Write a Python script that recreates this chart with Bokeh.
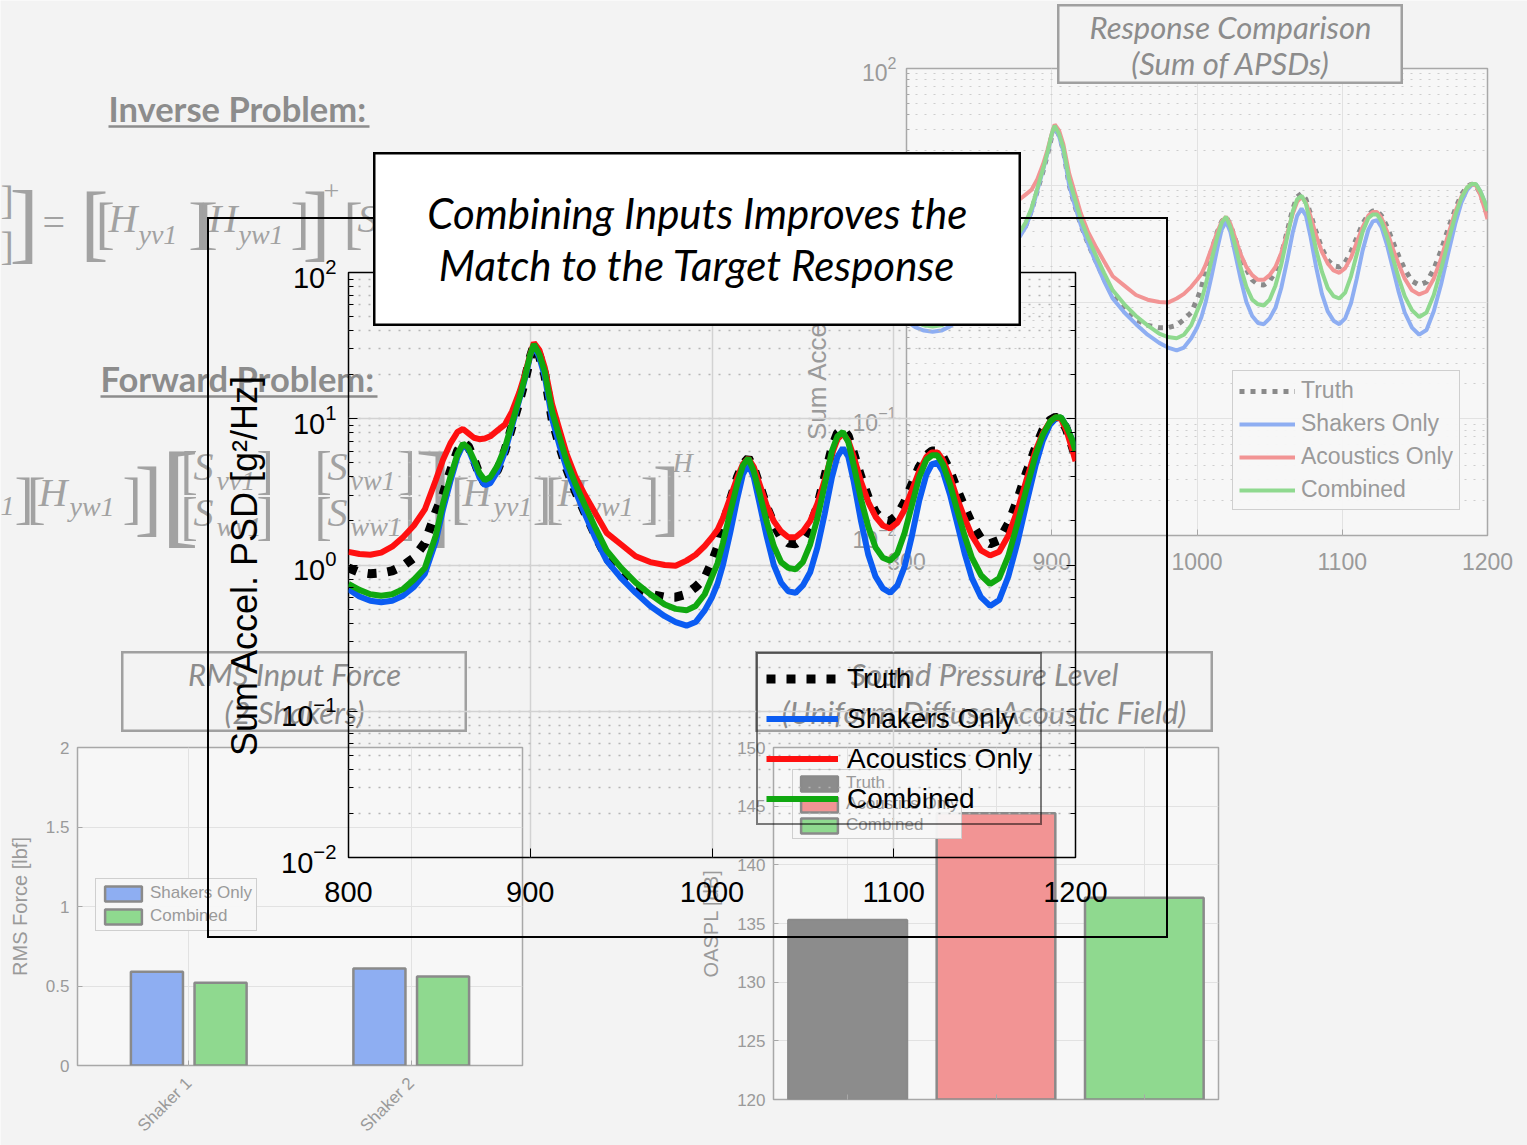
import math
from bokeh.plotting import figure
from bokeh.models import (ColumnDataSource, Range1d, FactorRange, FixedTicker, LogTicker,
                          LogAxis, LinearAxis, Legend, LegendItem, PrintfTickFormatter)
from bokeh.transform import dodge
from bokeh.core.properties import value
from bokeh.embed import file_html
from bokeh.resources import INLINE

# ---------------------------------------------------------------- data
# Frequency grid [Hz] and summed acceleration PSDs, stored as log10(g^2/Hz)
freq = [800, 806, 812, 818, 824, 830, 836, 842, 848,
        852, 856, 860, 863, 866, 869, 872, 875, 878, 882, 886, 890, 894, 897, 900, 902,
        905, 908, 912, 916, 920, 925, 930, 936, 942, 950, 958, 966, 974, 980, 986, 991, 996, 1000, 1003,
        1006, 1010, 1014, 1017, 1020, 1023, 1026, 1030, 1034, 1038, 1042, 1046, 1050,
        1054, 1058, 1062, 1066, 1069, 1072, 1075, 1078, 1082, 1086, 1090, 1094, 1098,
        1102, 1106, 1110, 1114, 1118, 1121, 1124, 1127, 1131, 1135, 1139, 1143, 1148, 1153,
        1158, 1163, 1168, 1173, 1178, 1182, 1186, 1189, 1192, 1195, 1198, 1200]

truth_log = [-0.02, -0.05, -0.06, -0.055, -0.04, -0.005, 0.05, 0.15, 0.36,
             0.48, 0.64, 0.78, 0.84, 0.81, 0.72, 0.62, 0.56, 0.58, 0.65, 0.78, 0.95, 1.12, 1.26, 1.42, 1.5,
             1.43, 1.3, 1.0, 0.82, 0.66, 0.5, 0.36, 0.2, 0.05, -0.07, -0.15, -0.2, -0.22, -0.22, -0.2, -0.15, -0.09, 0.02, 0.12,
             0.27, 0.44, 0.6, 0.69, 0.73, 0.66, 0.55, 0.4, 0.28, 0.19, 0.15, 0.145, 0.18,
             0.26, 0.4, 0.6, 0.8, 0.9, 0.93, 0.88, 0.76, 0.6, 0.46, 0.36, 0.31, 0.3,
             0.34, 0.43, 0.55, 0.67, 0.75, 0.78, 0.78, 0.74, 0.64, 0.51, 0.39, 0.28, 0.18, 0.145,
             0.17, 0.28, 0.44, 0.63, 0.8, 0.92, 0.99, 1.01, 1.0, 0.93, 0.82, 0.74]

shakers_log = [-0.165, -0.215, -0.245, -0.255, -0.245, -0.21, -0.15, -0.06, 0.16,
               0.38, 0.57, 0.74, 0.82, 0.79, 0.7, 0.6, 0.545, 0.56, 0.64, 0.77, 0.95, 1.13, 1.27, 1.43, 1.5,
               1.42, 1.29, 1.0, 0.82, 0.66, 0.5, 0.35, 0.18, 0.03, -0.09, -0.19, -0.28, -0.35, -0.39, -0.415, -0.39, -0.31, -0.22, -0.13,
               0.0, 0.22, 0.46, 0.62, 0.69, 0.6, 0.43, 0.2, 0.0, -0.12, -0.18, -0.19, -0.14,
               -0.05, 0.12, 0.35, 0.6, 0.74, 0.8, 0.74, 0.57, 0.3, 0.07, -0.08, -0.16, -0.19,
               -0.14, -0.01, 0.2, 0.44, 0.62, 0.69, 0.7, 0.64, 0.48, 0.28, 0.08, -0.09, -0.22, -0.28,
               -0.24, -0.08, 0.15, 0.42, 0.68, 0.85, 0.96, 1.0, 1.01, 0.95, 0.86, 0.78]

acoustics_log = [0.09, 0.075, 0.07, 0.085, 0.125, 0.19, 0.27, 0.38, 0.58,
                 0.72, 0.83, 0.91, 0.93, 0.9, 0.87, 0.86, 0.865, 0.88, 0.92, 0.96, 1.05, 1.18, 1.3, 1.44, 1.52,
                 1.47, 1.35, 1.1, 0.93, 0.76, 0.6, 0.48, 0.35, 0.22, 0.14, 0.06, 0.02, 0.0, -0.005, 0.03, 0.07, 0.13, 0.19, 0.24,
                 0.32, 0.46, 0.6, 0.69, 0.73, 0.67, 0.56, 0.41, 0.3, 0.23, 0.19, 0.19, 0.23,
                 0.3, 0.42, 0.58, 0.76, 0.86, 0.9, 0.85, 0.74, 0.57, 0.43, 0.33, 0.27, 0.25,
                 0.29, 0.38, 0.51, 0.64, 0.74, 0.77, 0.77, 0.72, 0.6, 0.45, 0.32, 0.2, 0.1, 0.065,
                 0.09, 0.2, 0.37, 0.58, 0.78, 0.9, 0.98, 1.01, 1.0, 0.92, 0.8, 0.71]

combined_log = [-0.13, -0.17, -0.2, -0.21, -0.2, -0.165, -0.1, -0.02, 0.2,
                0.42, 0.6, 0.76, 0.83, 0.8, 0.72, 0.63, 0.58, 0.6, 0.68, 0.8, 0.97, 1.14, 1.28, 1.44, 1.51,
                1.44, 1.32, 1.05, 0.88, 0.71, 0.55, 0.41, 0.25, 0.1, -0.02, -0.12, -0.2, -0.27, -0.3, -0.31, -0.28, -0.2, -0.08, 0.01,
                0.15, 0.36, 0.56, 0.68, 0.73, 0.64, 0.5, 0.3, 0.13, 0.02, -0.02, -0.03, 0.02,
                0.14, 0.32, 0.55, 0.78, 0.88, 0.91, 0.84, 0.68, 0.45, 0.26, 0.12, 0.05, 0.03,
                0.08, 0.22, 0.41, 0.6, 0.72, 0.75, 0.75, 0.69, 0.55, 0.37, 0.2, 0.05, -0.07, -0.13,
                -0.09, 0.06, 0.28, 0.52, 0.75, 0.89, 0.98, 1.01, 1.01, 0.95, 0.86, 0.78]

freq_ticks = [800, 900, 1000, 1100, 1200]

# RMS input force per shaker [lbf]
shaker_names = ["Shaker 1", "Shaker 2"]
force_shakers_only = [0.59, 0.61]
force_combined = [0.52, 0.56]
force_ticks = [0, 0.5, 1, 1.5, 2]

# Overall sound pressure level [dB]
spl_cases = ["Truth", "Acoustics Only", "Combined"]
oaspl_db = [135.3, 144.4, 137.2]
spl_ticks = [120, 125, 130, 135, 140, 145, 150]

series_names = ["Truth", "Shakers Only", "Acoustics Only", "Combined"]

# ---------------------------------------------------------------- styling
PAGE_W, PAGE_H = 1527, 1145
PAGE_BG = "#f3f3f3"
PANEL_BG = "#f7f7f7"
SLIDE_TXT = "#8c8c8c"
EQ_TXT = "#a2a2a2"
FADE_AXIS = "#9a9a9a"
FADE_GRID = "#e2e2e2"
SANS = "Liberation Sans"
SLIDE_FONT = "Lato"
MATH_FONT = "Liberation Serif"

BRIGHT = {"Truth": "#000000", "Shakers Only": "#0b5cf2",
          "Acoustics Only": "#ff1010", "Combined": "#10a810"}
FADED = {"Truth": "#8a8a8a", "Shakers Only": "#8eaef2",
         "Acoustics Only": "#f29494", "Combined": "#8fd98f", "TruthBar": "#8c8c8c"}

psd = {
    "Truth": [10 ** v for v in truth_log],
    "Shakers Only": [10 ** v for v in shakers_log],
    "Acoustics Only": [10 ** v for v in acoustics_log],
    "Combined": [10 ** v for v in combined_log],
}
psd_src = ColumnDataSource(dict(freq=freq, truth=psd["Truth"], shakers=psd["Shakers Only"],
                                acoustics=psd["Acoustics Only"], combined=psd["Combined"]))
cols = {"Truth": "truth", "Shakers Only": "shakers",
        "Acoustics Only": "acoustics", "Combined": "combined"}


def place(fig, left, top):
    fig.styles = {"position": "absolute", "left": f"{left}px", "top": f"{top}px"}
    return fig


def blank(width, height):
    p = figure(width=width, height=height, x_range=Range1d(0, width), y_range=Range1d(height, 0),
               min_border=0, toolbar_location=None, output_backend="svg", title=None,
               x_axis_location=None, y_axis_location=None)
    p.grid.visible = False
    return p


def put(p, x, y, s, size, color, font, style="normal", align="left", baseline="middle"):
    p.text(x=[x], y=[y], text=[s], text_font=value(font), text_font_size=f"{size}px",
           text_font_style=style, text_color=color, text_align=align, text_baseline=baseline)


def text_box(left, top, w, h, lines, ys, size, color, fill, border, bw):
    b = blank(w, h)
    b.background_fill_color = fill
    b.border_fill_color = fill
    b.outline_line_color = border
    b.outline_line_width = bw * 2
    b.text(x=[w / 2] * len(lines), y=ys, text=lines, text_font=value(SLIDE_FONT),
           text_font_size=f"{size}px", text_font_style="italic", text_color=color,
           text_align="center", text_baseline="middle")
    return place(b, left, top)


# ---------------------------------------------------------------- slide background
bg = blank(PAGE_W, PAGE_H)
bg.background_fill_color = PAGE_BG
bg.border_fill_color = PAGE_BG
bg.outline_line_color = None

put(bg, 108, 108, "Inverse Problem:", 34.5, SLIDE_TXT, SLIDE_FONT, "bold")
put(bg, 100, 378, "Forward Problem:", 34.5, SLIDE_TXT, SLIDE_FONT, "bold")
bg.segment(x0=[108, 100], y0=[126, 396], x1=[369, 377], y1=[126, 396],
           line_color=SLIDE_TXT, line_width=2.5)

# equation fragments: (x, y, text, size, style)
equation = [
    (0, 200, "]", 40, "normal"), (0, 246, "]", 40, "normal"), (9, 222, "]", 88, "normal"),
    (42, 222, "=", 40, "normal"),
    (80, 222, "[", 84, "normal"), (95, 222, "[", 58, "normal"),
    (108, 218, "H", 40, "italic"), (138, 234, "yv1", 28, "italic"),
    (188, 222, "]", 58, "normal"), (198, 222, "[", 58, "normal"),
    (208, 218, "H", 40, "italic"), (238, 234, "yw1", 28, "italic"),
    (290, 222, "]", 58, "normal"), (302, 222, "]", 84, "normal"),
    (323, 190, "+", 28, "normal"),
    (343, 222, "[", 58, "normal"), (357, 218, "S", 40, "italic"),

    (0, 505, "1", 28, "italic"), (14, 497, "]", 58, "normal"), (26, 497, "[", 58, "normal"),
    (38, 492, "H", 40, "italic"), (69, 506, "yw1", 28, "italic"),
    (122, 497, "]", 58, "normal"), (134, 497, "]", 84, "normal"),
    (160, 492, "[", 116, "normal"),
    (180, 470, "[", 52, "normal"), (193, 466, "S", 40, "italic"), (216, 480, "vv1", 28, "italic"),
    (256, 470, "]", 52, "normal"),
    (180, 516, "[", 52, "normal"), (193, 512, "S", 40, "italic"), (216, 526, "wv1", 28, "italic"),
    (256, 516, "]", 52, "normal"),
    (314, 470, "[", 52, "normal"), (327, 466, "S", 40, "italic"), (350, 480, "vw1", 28, "italic"),
    (398, 470, "]", 52, "normal"),
    (314, 516, "[", 52, "normal"), (327, 512, "S", 40, "italic"), (350, 526, "ww1", 28, "italic"),
    (398, 516, "]", 52, "normal"),
    (414, 492, "]", 116, "normal"),
    (450, 497, "[", 58, "normal"), (462, 492, "H", 40, "italic"), (493, 506, "yv1", 28, "italic"),
    (532, 497, "]", 58, "normal"), (544, 497, "[", 58, "normal"),
    (557, 492, "H", 40, "italic"), (588, 506, "yw1", 28, "italic"),
    (640, 497, "]", 58, "normal"), (652, 497, "]", 84, "normal"),
    (672, 462, "H", 28, "italic"),
]
for x, y, s, size, style in equation:
    put(bg, x, y, s, size, EQ_TXT, MATH_FONT, style)

# ---------------------------------------------------------------- faded response comparison
resp = figure(width=737, height=585, x_range=Range1d(800, 1200), y_range=Range1d(1e-2, 1e2),
              y_axis_type="log", min_border_left=116, min_border_right=40, min_border_top=68,
              min_border_bottom=50, toolbar_location=None, output_backend="svg", title=None)
place(resp, 790, 0)
resp.background_fill_color = PANEL_BG
resp.border_fill_alpha = 0
resp.outline_line_color = "#a8a8a8"
resp.outline_line_width = 1.5
resp.xaxis.ticker = FixedTicker(ticks=freq_ticks, minor_ticks=[])
for ax in (resp.xaxis, resp.yaxis):
    ax.axis_line_color = None
    ax.major_tick_line_color = "#a8a8a8"
    ax.minor_tick_line_color = "#a8a8a8"
    ax.major_tick_in, ax.major_tick_out = 6, 0
    ax.minor_tick_in, ax.minor_tick_out = 3, 0
    ax.major_label_text_font = SANS
    ax.major_label_text_font_size = "23px"
    ax.major_label_text_color = FADE_AXIS
resp.xaxis.major_label_standoff = 17
resp.yaxis.major_label_standoff = 10
resp.yaxis.axis_label = "Sum Accel. PSD [g²/Hz]"
resp.yaxis.axis_label_text_font = SANS
resp.yaxis.axis_label_text_font_size = "26px"
resp.yaxis.axis_label_text_font_style = "normal"
resp.yaxis.axis_label_text_color = FADE_AXIS
resp.yaxis.axis_label_standoff = 18
resp.xgrid.grid_line_color = FADE_GRID
resp.ygrid.grid_line_color = FADE_GRID
resp.ygrid.minor_grid_line_color = "#cdcdcd"
resp.ygrid.minor_grid_line_dash = "2 7"

resp_items = []
for name in series_names:
    if name == "Truth":
        r = resp.line("freq", cols[name], source=psd_src, line_color=FADED[name],
                      line_width=5, line_dash="5 6")
    else:
        r = resp.line("freq", cols[name], source=psd_src, line_color=FADED[name], line_width=4)
    resp_items.append(LegendItem(label=name, renderers=[r]))
resp_leg = Legend(items=resp_items, location=(326, 25), glyph_width=56, glyph_height=26,
                  spacing=6, padding=6, margin=0, label_standoff=6,
                  label_text_font=SANS, label_text_font_size="23px", label_text_color=FADE_AXIS,
                  border_line_color="#a8a8a8", border_line_width=1.5,
                  background_fill_color=PANEL_BG)
resp.add_layout(resp_leg)

# ---------------------------------------------------------------- faded RMS force bars
force_src = ColumnDataSource(dict(shaker=shaker_names, shakers_only=force_shakers_only,
                                  combined=force_combined))
bar1 = figure(width=540, height=415, x_range=FactorRange(factors=shaker_names),
              y_range=Range1d(0, 2), min_border_left=77, min_border_right=18, min_border_top=17,
              min_border_bottom=78, toolbar_location=None, output_backend="svg", title=None)
place(bar1, 0, 730)
b1a = bar1.vbar(x=dodge("shaker", -0.143, range=bar1.x_range), top="shakers_only", width=0.234,
                source=force_src, fill_color=FADED["Shakers Only"], line_color="#8a8a8a",
                line_width=2.5)
b1b = bar1.vbar(x=dodge("shaker", 0.143, range=bar1.x_range), top="combined", width=0.234,
                source=force_src, fill_color=FADED["Combined"], line_color="#8a8a8a",
                line_width=2.5)
bar1.yaxis.ticker = FixedTicker(ticks=force_ticks, minor_ticks=[])
bar1.yaxis.formatter = PrintfTickFormatter(format="%g")
bar1.yaxis.axis_label = "RMS Force [lbf]"
bar1.xaxis.major_label_orientation = math.pi / 4

# ---------------------------------------------------------------- faded OASPL bars
spl_src = ColumnDataSource(dict(case=spl_cases, oaspl=oaspl_db,
                                color=[FADED["TruthBar"], FADED["Acoustics Only"], FADED["Combined"]]))
bar2 = figure(width=540, height=415, x_range=FactorRange(factors=spl_cases),
              y_range=Range1d(120, 150), min_border_left=83, min_border_right=12, min_border_top=17,
              min_border_bottom=46, toolbar_location=None, output_backend="svg", title=None)
place(bar2, 690, 730)
bar2.vbar(x="case", top="oaspl", bottom=120, width=0.8, source=spl_src, fill_color="color",
          line_color="#8a8a8a", line_width=2.5, legend_field="case")
bar2.yaxis.ticker = FixedTicker(ticks=spl_ticks, minor_ticks=[])
bar2.yaxis.axis_label = "OASPL [dB]"

for p in (bar1, bar2):
    p.background_fill_color = PANEL_BG
    p.border_fill_alpha = 0
    p.outline_line_color = "#a8a8a8"
    p.outline_line_width = 1.5
    p.xgrid.grid_line_color = FADE_GRID
    p.ygrid.grid_line_color = FADE_GRID
    for ax in (p.xaxis, p.yaxis):
        ax.axis_line_color = None
        ax.major_tick_line_color = "#a8a8a8"
        ax.major_tick_in, ax.major_tick_out = 5, 0
        ax.major_label_text_font = SANS
        ax.major_label_text_font_size = "17px"
        ax.major_label_text_color = FADE_AXIS
    p.yaxis.major_label_standoff = 8
    p.yaxis.axis_label_text_font = SANS
    p.yaxis.axis_label_text_font_size = "20px"
    p.yaxis.axis_label_text_font_style = "normal"
    p.yaxis.axis_label_text_color = FADE_AXIS
    p.yaxis.axis_label_standoff = 12

# the OASPL category names sit below the visible slide area
bar2.xaxis.major_label_text_color = None
bar1.xaxis.major_label_standoff = 15

bar1_leg = Legend(items=[LegendItem(label="Shakers Only", renderers=[b1a]),
                         LegendItem(label="Combined", renderers=[b1b])],
                  location=(18, 134))
bar1.add_layout(bar1_leg)
bar2.legend.location = (19, 260)
for leg in (bar1.legend[0], bar2.legend[0]):
    leg.glyph_width = 46
    leg.glyph_height = 19
    leg.spacing = 3
    leg.padding = 4
    leg.margin = 0
    leg.label_standoff = 4
    leg.label_text_font = SANS
    leg.label_text_font_size = "17px"
    leg.label_text_color = FADE_AXIS
    leg.border_line_color = "#a8a8a8"
    leg.border_line_width = 1.5
    leg.background_fill_color = PANEL_BG
bar2.legend[0].spacing = 1
bar2.legend[0].padding = 3

# ---------------------------------------------------------------- faded panel titles
t_resp = text_box(1057, 4, 346, 80, ["Response Comparison", "(Sum of APSDs)"], [22, 58],
                  31, SLIDE_TXT, PAGE_BG, "#a0a0a0", 2)
t_bar1 = text_box(121, 651, 346, 81, ["RMS Input Force", "(2 Shakers)"], [22, 60],
                  31, SLIDE_TXT, PAGE_BG, "#a0a0a0", 2)
t_bar2 = text_box(755, 651, 458, 81, ["Sound Pressure Level", "(Uniform Diffuse Acoustic Field)"],
                  [22, 60], 31, SLIDE_TXT, PAGE_BG, "#a0a0a0", 2)
for t in (t_bar1, t_bar2):
    t.background_fill_alpha = 0
    t.border_fill_alpha = 0

# ---------------------------------------------------------------- highlighted PSD comparison
frame_box = blank(961, 721)
frame_box.background_fill_alpha = 0
frame_box.border_fill_alpha = 0
frame_box.outline_line_color = "#000000"
frame_box.outline_line_width = 3
place(frame_box, 207, 217)

main = figure(width=961, height=721, x_range=Range1d(800, 1200), y_range=Range1d(1e-2, 1e2),
              y_axis_type="log", min_border_left=141, min_border_right=93, min_border_top=55,
              min_border_bottom=81, toolbar_location=None, output_backend="svg", title=None)
place(main, 207, 217)
main.background_fill_alpha = 0
main.border_fill_alpha = 0
main.outline_line_color = "#000000"
main.outline_line_width = 1.5

x_bottom = main.below[0]
y_left = main.left[0]
x_bottom.ticker = FixedTicker(ticks=freq_ticks, minor_ticks=[])
x_top = LinearAxis(ticker=FixedTicker(ticks=freq_ticks, minor_ticks=[]),
                   major_label_text_color=None)
y_right = LogAxis(ticker=LogTicker(), major_label_text_color=None)
main.add_layout(x_top, "above")
main.add_layout(y_right, "right")
for ax in (x_bottom, y_left, x_top, y_right):
    ax.axis_line_color = None
    ax.major_tick_line_color = "#000000"
    ax.minor_tick_line_color = "#000000"
    ax.major_tick_in, ax.major_tick_out = 9, 0
    ax.minor_tick_in, ax.minor_tick_out = 5, 0
for ax in (x_bottom, y_left):
    ax.major_label_text_font = SANS
    ax.major_label_text_font_size = "29px"
    ax.major_label_text_color = "#000000"
x_bottom.major_label_standoff = 24
y_left.major_label_standoff = 12
y_left.axis_label = "Sum Accel. PSD [g²/Hz]"
y_left.axis_label_text_font = SANS
y_left.axis_label_text_font_size = "36px"
y_left.axis_label_text_font_style = "normal"
y_left.axis_label_text_color = "#000000"
y_left.axis_label_standoff = 13

main.xgrid.grid_line_color = "#d2d2d2"
main.xgrid.grid_line_width = 1.5
main.ygrid.grid_line_color = "#d2d2d2"
main.ygrid.grid_line_width = 1.5
main.ygrid.minor_grid_line_color = "#b5b5b5"
main.ygrid.minor_grid_line_width = 1.5
main.ygrid.minor_grid_line_dash = "2 8"

main_items = []
for name in series_names:
    if name == "Truth":
        r = main.line("freq", cols[name], source=psd_src, line_color=BRIGHT[name],
                      line_width=9, line_dash="9 11")
    else:
        r = main.line("freq", cols[name], source=psd_src, line_color=BRIGHT[name], line_width=6)
    main_items.append(LegendItem(label=name, renderers=[r]))
main_leg = Legend(items=main_items, location=(408, 32), glyph_width=72, glyph_height=33,
                  spacing=7, padding=8, margin=0, label_standoff=9,
                  label_text_font=SANS, label_text_font_size="28px", label_text_color="#000000",
                  border_line_color="#000000", border_line_width=2, background_fill_alpha=0)
main.add_layout(main_leg)

t_main = text_box(373, 152, 648, 174,
                  ["Combining Inputs Improves the", "Match to the Target Response"], [60, 112],
                  42, "#000000", "#ffffff", "#000000", 2)

roots = [bg, resp, bar1, bar2, t_resp, t_bar1, t_bar2, frame_box, main, t_main]
open("out.html", "w").write(file_html(roots, INLINE, title="Combining Inputs"))
